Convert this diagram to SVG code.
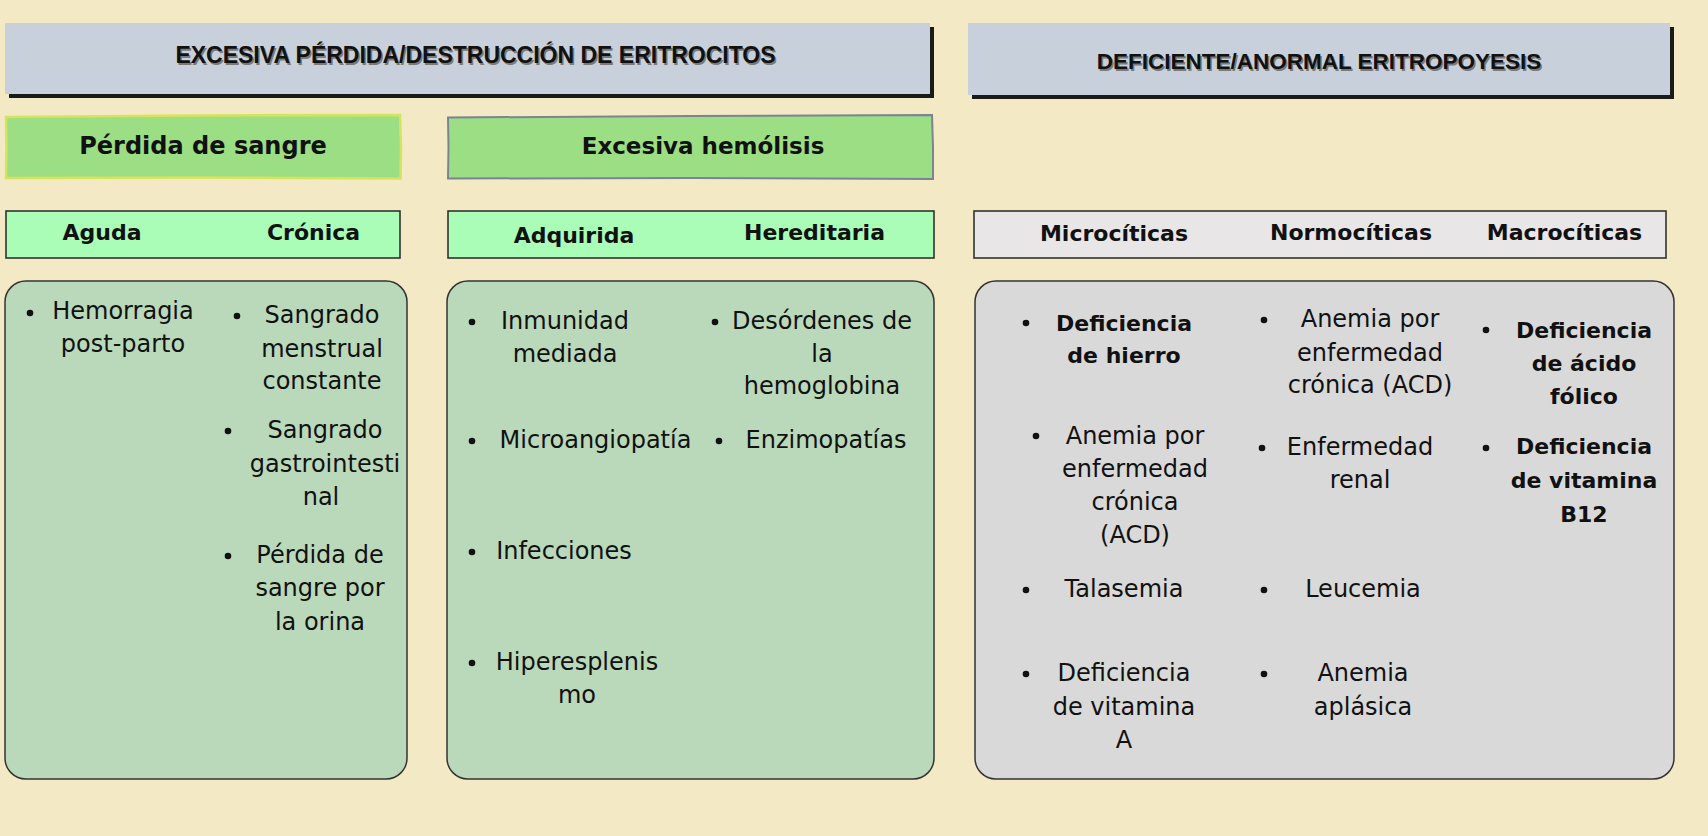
<svg xmlns="http://www.w3.org/2000/svg" width="1708" height="836" viewBox="0 0 1708 836">
  <style>
    .t{font-family:"DejaVu Sans","Open Sans",sans-serif;font-size:24px;fill:#111;text-anchor:middle}
    .b{font-family:"DejaVu Sans","Open Sans",sans-serif;font-size:22px;font-weight:bold;fill:#111;text-anchor:middle}
    .h{font-family:"DejaVu Sans","Open Sans",sans-serif;font-weight:bold;fill:#111;text-anchor:middle}
    .ttl{font-family:"Liberation Sans",Arial,sans-serif;font-size:23px;font-weight:bold;text-anchor:middle}
    .sh{fill:#7a7a7a}
    .tx{fill:#111}
    .titlebox{fill:#C8D1DB}
    .shadow{fill:#1a1a1a}
    .sub{stroke:#262626;stroke-width:1.5}
    .panel{stroke:#333;stroke-width:1.5}
    .dot{fill:#111}
  </style>
  <rect x="0" y="0" width="1708" height="836" fill="#F3E9C4"/>

  <g id="title-perdida">
    <rect class="shadow" x="9" y="27" width="925" height="71"/>
    <rect class="titlebox" x="5" y="23" width="925" height="71"/>
    <text class="ttl sh" x="477" y="64.5">EXCESIVA PÉRDIDA/DESTRUCCIÓN DE ERITROCITOS</text>
    <text class="ttl tx" x="475.5" y="63">EXCESIVA PÉRDIDA/DESTRUCCIÓN DE ERITROCITOS</text>
  </g>

  <g id="title-eritropoyesis">
    <rect class="shadow" x="972" y="27" width="702" height="72"/>
    <rect class="titlebox" x="968" y="23" width="702" height="72"/>
    <text class="ttl sh" x="1320.5" y="70.5" style="font-size:22.5px">DEFICIENTE/ANORMAL ERITROPOYESIS</text>
    <text class="ttl tx" x="1319" y="69" style="font-size:22.5px">DEFICIENTE/ANORMAL ERITROPOYESIS</text>
  </g>

  <g id="perdida-sangre">
    <path d="M6,117 L200,115.5 L400,115 L401,147 L400.5,178.5 L200,177.5 L6,178 L6.5,147 Z" fill="#9BDE84" stroke="#D6E35C" stroke-width="2.5"/>
    <text class="h" x="203" y="154" style="font-size:24px">Pérdida de sangre</text>
  </g>

  <g id="excesiva-hemolisis">
    <path d="M448,117.5 L690,116 L932,115 L933,147 L933,179 L690,178 L448,178.5 L448.5,147 Z" fill="#9BDE84" stroke="#7A8494" stroke-width="2"/>
    <text class="h" x="703" y="154" style="font-size:23px">Excesiva hemólisis</text>
  </g>

  <g id="aguda-cronica">
    <rect class="sub" x="6" y="211" width="394" height="47" fill="#A9FDB7"/>
    <text class="b" x="102" y="240">Aguda</text>
    <text class="b" x="313.5" y="240">Crónica</text>
  </g>

  <g id="adquirida-hereditaria">
    <rect class="sub" x="448" y="211" width="486" height="47" fill="#A9FDB7"/>
    <text class="b" x="574" y="243">Adquirida</text>
    <text class="b" x="814.5" y="240">Hereditaria</text>
  </g>

  <g id="tipos-eritropoyesis">
    <rect class="sub" x="974" y="211" width="692" height="47" fill="#E8E6E7"/>
    <text class="b" x="1114" y="241">Microcíticas</text>
    <text class="b" x="1351" y="240">Normocíticas</text>
    <text class="b" x="1564.5" y="240">Macrocíticas</text>
  </g>

  <g id="panel-perdida">
    <rect class="panel" x="5" y="281" width="402" height="498" rx="21" fill="#BAD9BA"/>
    <circle class="dot" cx="30" cy="313" r="3.3"/>
    <text class="t" x="123" y="319">Hemorragia</text>
    <text class="t" x="123" y="352">post-parto</text>
    <circle class="dot" cx="237" cy="316" r="3.3"/>
    <text class="t" x="322" y="323">Sangrado</text>
    <text class="t" x="322" y="357">menstrual</text>
    <text class="t" x="322" y="389">constante</text>
    <circle class="dot" cx="228" cy="431" r="3.3"/>
    <text class="t" x="325" y="438">Sangrado</text>
    <text class="t" x="325" y="472">gastrointesti</text>
    <text class="t" x="321" y="505">nal</text>
    <circle class="dot" cx="228" cy="556" r="3.3"/>
    <text class="t" x="320" y="563">Pérdida de</text>
    <text class="t" x="320" y="596">sangre por</text>
    <text class="t" x="320" y="630">la orina</text>
  </g>

  <g id="panel-hemolisis">
    <rect class="panel" x="447" y="281" width="487" height="498" rx="21" fill="#BAD9BA"/>
    <circle class="dot" cx="472" cy="322" r="3.3"/>
    <text class="t" x="565" y="329">Inmunidad</text>
    <text class="t" x="565" y="362">mediada</text>
    <circle class="dot" cx="472" cy="441" r="3.3"/>
    <text class="t" x="595.5" y="448">Microangiopatía</text>
    <circle class="dot" cx="472" cy="552" r="3.3"/>
    <text class="t" x="564" y="559">Infecciones</text>
    <circle class="dot" cx="472" cy="663" r="3.3"/>
    <text class="t" x="577" y="670">Hiperesplenis</text>
    <text class="t" x="577" y="703">mo</text>
    <circle class="dot" cx="715" cy="322" r="3.3"/>
    <text class="t" x="822" y="329">Desórdenes de</text>
    <text class="t" x="822" y="362">la</text>
    <text class="t" x="822" y="394">hemoglobina</text>
    <circle class="dot" cx="719" cy="441" r="3.3"/>
    <text class="t" x="826" y="448">Enzimopatías</text>
  </g>

  <g id="panel-eritropoyesis">
    <rect class="panel" x="975" y="281" width="699" height="498" rx="21" fill="#D9D9D9"/>
    <circle class="dot" cx="1026" cy="323" r="3.3"/>
    <text class="b" x="1124" y="331">Deficiencia</text>
    <text class="b" x="1124" y="363">de hierro</text>
    <circle class="dot" cx="1036" cy="436" r="3.3"/>
    <text class="t" x="1135" y="444">Anemia por</text>
    <text class="t" x="1135" y="477">enfermedad</text>
    <text class="t" x="1135" y="510">crónica</text>
    <text class="t" x="1135" y="543">(ACD)</text>
    <circle class="dot" cx="1026" cy="590" r="3.3"/>
    <text class="t" x="1124" y="597">Talasemia</text>
    <circle class="dot" cx="1026" cy="674" r="3.3"/>
    <text class="t" x="1124" y="681">Deficiencia</text>
    <text class="t" x="1124" y="715">de vitamina</text>
    <text class="t" x="1124" y="748">A</text>

    <circle class="dot" cx="1264" cy="320" r="3.3"/>
    <text class="t" x="1370" y="327">Anemia por</text>
    <text class="t" x="1370" y="361">enfermedad</text>
    <text class="t" x="1370" y="393">crónica (ACD)</text>
    <circle class="dot" cx="1262" cy="448" r="3.3"/>
    <text class="t" x="1360" y="455">Enfermedad</text>
    <text class="t" x="1360" y="488">renal</text>
    <circle class="dot" cx="1264" cy="590" r="3.3"/>
    <text class="t" x="1363" y="597">Leucemia</text>
    <circle class="dot" cx="1264" cy="674" r="3.3"/>
    <text class="t" x="1363" y="681">Anemia</text>
    <text class="t" x="1363" y="715">aplásica</text>

    <circle class="dot" cx="1486" cy="330" r="3.3"/>
    <text class="b" x="1584" y="338">Deficiencia</text>
    <text class="b" x="1584" y="371">de ácido</text>
    <text class="b" x="1584" y="404">fólico</text>
    <circle class="dot" cx="1486" cy="448" r="3.3"/>
    <text class="b" x="1584" y="454">Deficiencia</text>
    <text class="b" x="1584" y="488">de vitamina</text>
    <text class="b" x="1584" y="522">B12</text>
  </g>
</svg>
